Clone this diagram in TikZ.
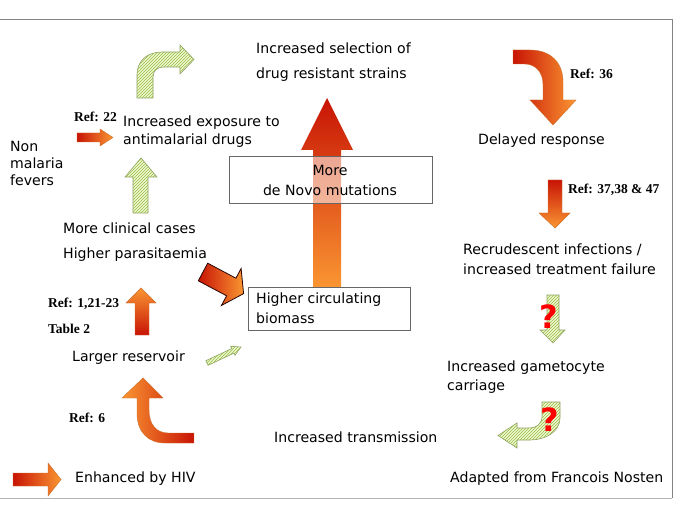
\documentclass[tikz,border=0pt]{standalone}
\usepackage{fontspec}
\setmainfont{DejaVu Sans}
\newfontfamily\reffont{Liberation Serif}
\usetikzlibrary{patterns}
\definecolor{ared}{RGB}{200,20,5}
\definecolor{aorange}{RGB}{250,150,50}
\definecolor{gfill}{RGB}{240,248,208}
\definecolor{ghatch}{RGB}{150,188,70}
\definecolor{gline}{RGB}{140,158,100}
\definecolor{aline}{RGB}{205,110,40}
\definecolor{framegray}{RGB}{130,130,130}
\tikzset{
  txt/.style={anchor=west, inner sep=0pt, font=\fontsize{14.1}{17}\selectfont},
  ctxt/.style={inner sep=0pt, font=\fontsize{14.1}{17}\selectfont},
  reftxt/.style={anchor=west, inner sep=0pt, font=\reffont\bfseries\fontsize{13.5}{16}\selectfont},
  garrow/.style={draw=gline, line width=0.6pt, fill=gfill, postaction={pattern=north east lines, pattern color=ghatch}},
  oarrow/.style={draw=aline, line width=0.4pt},
  darrow/.style={draw=black!80!ared, line width=0.8pt},
  qmark/.style={text=red, font=\bfseries\fontsize{32}{36}\selectfont, inner sep=0pt},
  infobox/.style={draw=black!60, line width=0.6pt}
}
\begin{document}
\begin{tikzpicture}[x=1pt,y=-1pt]
\useasboundingbox (0,0) rectangle (685,513);
\fill[white] (0,0) rectangle (685,513);
% frame
\draw[framegray, line width=0.8pt] (0,19) -- (672,19) -- (672,498);
\draw[black!30, line width=1pt] (0,498) -- (672,498);

% big vertical arrow
\shade[top color=ared, bottom color=aorange] (313,288) -- (313,150) -- (301,150) -- (327,98) -- (353,150) -- (341,150) -- (341,288) -- cycle;
\draw[infobox, fill=white, fill opacity=0.55] (229,156) rectangle (432,203);
\node[ctxt] (more1) at (330,170) {More};
\node[ctxt] (more2) at (330,190) {de Novo mutations};
\draw[infobox, fill=white] (248,287) rectangle (410,330);
\node[txt] (bio1) at (256,300) {Higher circulating};
\node[txt] (bio2) at (256,318) {biomass};

% green curved arrow top-left
\path[garrow] (137,98) -- (137,75) .. controls (137,61) and (147,52) .. (162,52) -- (180,52) -- (180,45) -- (194,59.5) -- (180,74) -- (180,67) -- (163,67) .. controls (157,67) and (153,71) .. (153,77) -- (153,98) -- cycle;
% green up arrow
\path[garrow] (133,213) -- (133,177) -- (125,177) -- (141,158) -- (157,177) -- (148,177) -- (148,213) -- cycle;
% Ref 22 arrow
\shadedraw[oarrow, left color=ared, right color=aorange] (77,133) -- (100,133) -- (100,129) -- (113,137.5) -- (100,146) -- (100,142) -- (77,142) -- cycle;
% top-right curved arrow
\shadedraw[oarrow, left color=ared, right color=aorange] (513,50) -- (530,50) .. controls (550,50) and (563,62) .. (563,82) -- (563,100) -- (576,100) -- (553,125) -- (530,100) -- (543,100) -- (543,84) .. controls (543,72) and (535,64) .. (525,64) -- (513,64) -- cycle;
% Ref 37 arrow
\shadedraw[oarrow, top color=ared, bottom color=aorange] (548,180) -- (562,180) -- (562,213) -- (570,213) -- (555,228) -- (539,213) -- (548,213) -- cycle;
% diagonal arrow to biomass
\shadedraw[darrow, left color=ared, right color=aorange] (207.7,263.2) -- (235.9,278.2) -- (241.1,268.5) -- (243.6,293.6) -- (221.4,305.5) -- (226.6,295.8) -- (198.3,280.8) -- cycle;
% Ref 1 arrow
\shadedraw[oarrow, top color=aorange, bottom color=ared] (135,335) -- (135,303) -- (126,303) -- (141,288) -- (156,303) -- (149,303) -- (149,335) -- cycle;
% small green diagonal arrow
\path[garrow] (205.9,360.7) -- (231.8,348.6) -- (230.7,346.3) -- (241,347) -- (235.0,355.3) -- (233.9,353.1) -- (208.1,365.3) -- cycle;
% bottom-left curved arrow
\shadedraw[oarrow, left color=aorange, right color=ared] (137,398) -- (137,413) .. controls (137,432) and (148,443) .. (165,443) -- (194,443) -- (194,433) -- (168,433) .. controls (156,433) and (149,424) .. (149,410) -- (149,398) -- (163,398) -- (143,378) -- (122,398) -- cycle;
% green down arrow with ?
\path[garrow] (547,295) -- (559,295) -- (559,330) -- (565,330) -- (553,343) -- (540,330) -- (547,330) -- cycle;
\node[qmark] (q1) at (549,317) {?};
% green curved arrow bottom right
\path[garrow] (542,402) -- (560,402) -- (560,418) .. controls (560,432) and (545,440) .. (530,440) -- (517,440) -- (517,448) -- (498,435.5) -- (517,423) -- (517,428) -- (528,428) .. controls (537,428) and (542,424) .. (542,416) -- cycle;
\node[qmark] (q2) at (550,420) {?};
% legend arrow
\shadedraw[oarrow, left color=ared, right color=aorange] (13,473) -- (48,473) -- (48,463) -- (61,479.5) -- (48,496) -- (48,486) -- (13,486) -- cycle;

% texts
\node[txt] (sel1) at (256,48) {Increased selection of};
\node[txt] (sel2) at (256,75) {drug resistant strains};
\node[reftxt] (ref36) at (570,74) {Ref: 36};
\node[txt] (delayed) at (478,141) {Delayed response};
\node[reftxt] (ref37) at (568,190) {Ref: 37,38 \& 47};
\node[txt] (recru1) at (463,250) {Recrudescent infections /};
\node[txt] (recru2) at (463,269) {increased treatment failure};
\node[txt] (gam1) at (447,368) {Increased gametocyte};
\node[txt] (gam2) at (447,387) {carriage};
\node[txt] (trans) at (274,437) {Increased transmission};
\node[txt] (adapted) at (450,479) {Adapted from Francois Nosten};
\node[txt] (enh) at (75,479) {Enhanced by HIV};
\node[reftxt] (ref6) at (69,418) {Ref: 6};
\node[txt] (larger) at (72,358) {Larger reservoir};
\node[reftxt] (ref1) at (48,304) {Ref: 1,21-23};
\node[reftxt] (table2) at (48,329) {Table 2};
\node[txt] (clin) at (63,228) {More clinical cases};
\node[txt] (para) at (63,255) {Higher parasitaemia};
\node[txt] (non1) at (10,146) {Non};
\node[txt] (non2) at (10,163) {malaria};
\node[txt] (non3) at (10,180) {fevers};
\node[reftxt] (ref22) at (74,117) {Ref: 22};
\node[txt] (exp1) at (123,123) {Increased exposure to};
\node[txt] (exp2) at (123,141) {antimalarial drugs};
\end{tikzpicture}
\end{document}
